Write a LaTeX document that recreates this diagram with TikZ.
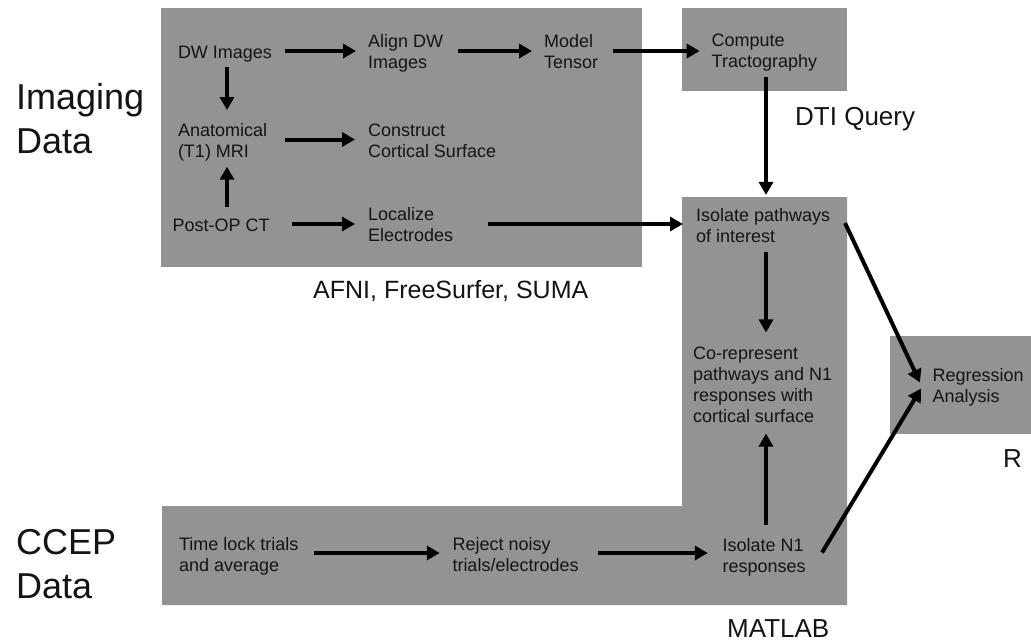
\documentclass[tikz,border=0pt]{standalone}
\usepackage{fontspec}
\setmainfont{Liberation Sans}
\usetikzlibrary{arrows.meta,calc}
\definecolor{panelgray}{RGB}{147,147,147}
\definecolor{inktext}{RGB}{20,20,20}
\tikzset{
  lbl/.style={anchor=base west, inner sep=0pt, outer sep=0pt, align=left, text=inktext, font=\fontsize{18}{21}\selectfont},
  big/.style={anchor=base west, inner sep=0pt, align=left, text=inktext, font=\fontsize{36}{44}\selectfont},
  tool/.style={anchor=base west, inner sep=0pt, text=inktext, font=\fontsize{26}{30}\selectfont},
  panel/.style={fill=panelgray, draw=none},
  arr/.style={line width=4pt, draw=black, -{Triangle[length=13pt,width=14pt]}},
}
\begin{document}
\begin{tikzpicture}[x=1pt,y=-1pt]
\useasboundingbox (0,0) rectangle (1031,643);
% panels
\fill[panel] (161,8) rectangle (642,267);
\fill[panel] (682,8) rectangle (847,91);
\fill[panel] (682,197) -- (847,197) -- (847,605) -- (162,605) -- (162,506) -- (682,506) -- cycle;
\fill[panel] (890,336) rectangle (1031,434);
% big labels (anchor = baseline of last line)
\node[big] (imaging) at (16,153) {Imaging\\Data};
\node[big] (ccep) at (16,598) {CCEP\\Data};
% tool labels
\node[tool] (dti) at (795,125) {DTI Query};
\node[tool, font=\fontsize{25}{30}\selectfont] (afni) at (313,298) {AFNI, FreeSurfer, SUMA};
\node[tool] (matlab) at (727,637) {MATLAB};
\node[tool] (rlab) at (1003,467) {R};
% step nodes (anchor = baseline of last line)
\node[lbl] (dw) at (178,58.3) {DW Images};
\node[lbl] (align) at (368,68.3) {Align DW\\Images};
\node[lbl] (model) at (544,68.3) {Model\\Tensor};
\node[lbl] (comp) at (711.7,67.7) {Compute\\Tractography};
\node[lbl] (anat) at (178,157) {Anatomical\\(T1) MRI};
\node[lbl] (constr) at (368,157) {Construct\\Cortical Surface};
\node[lbl] (post) at (172.5,231.7) {Post-OP CT};
\node[lbl] (loc) at (368,241.7) {Localize\\Electrodes};
\node[lbl] (iso) at (696,242) {Isolate pathways\\of interest};
\node[lbl] (corep) at (693,422) {Co-represent\\pathways and N1\\responses with\\cortical surface};
\node[lbl] (regr) at (932.5,402.7) {Regression\\Analysis};
\node[lbl] (isoN) at (722.5,572.7) {Isolate N1\\responses};
\node[lbl] (time) at (179,571) {Time lock trials\\and average};
\node[lbl] (rej) at (452.5,571) {Reject noisy\\trials/electrodes};
% guide coordinates
\coordinate (row1) at (0,51);
\coordinate (row2) at (0,139.5);
\coordinate (row3) at (0,224);
\coordinate (row4) at (0,553);
\coordinate (col1) at (227,0);
\coordinate (col2) at (766,0);
% arrows
\draw[arr, shorten <=13pt, shorten >=12pt] (dw.east |- row1) -- (align.west |- row1);
\draw[arr, shorten <=15pt, shorten >=12pt] (align.east |- row1) -- (model.west |- row1);
\draw[arr, shorten <=15pt, shorten >=12pt] (model.east |- row1) -- (comp.west |- row1);
\draw[arr, shorten <=4.6pt, shorten >=12.9pt] (dw.south -| col1) -- (anat.north -| col1);
\draw[arr, shorten <=18pt, shorten >=13pt] (anat.east |- row2) -- (constr.west |- row2);
\draw[arr, shorten <=12pt, shorten >=6pt] (post.north -| col1) -- (anat.south -| col1);
\draw[arr, shorten <=22pt, shorten >=13pt] (post.east |- row3) -- (loc.west |- row3);
\draw[arr, shorten <=35pt, shorten >=13pt] (loc.east |- row3) -- (iso.west |- row3);
\draw[arr, shorten <=6pt, shorten >=13pt] (comp.south -| col2) -- (iso.north -| col2);
\draw[arr, shorten <=10pt, shorten >=14pt] (iso.south -| col2) -- (corep.north -| col2);
\draw[arr, shorten <=13.7pt, shorten >=11.4pt] (isoN.north -| col2) -- (corep.south -| col2);
\draw[arr, shorten <=16pt, shorten >=12.7pt] (time.east |- row4) -- (rej.west |- row4);
\draw[arr, shorten <=19pt, shorten >=14.7pt] (rej.east |- row4) -- (isoN.west |- row4);
\draw[arr] ([shift={(15,-2)}]iso.east) -- ([shift={(-12.5,-5)}]regr.west);
\draw[arr] ([shift={(16.5,-5)}]isoN.east) -- ([shift={(-11.5,1)}]regr.west);
\end{tikzpicture}
\end{document}
